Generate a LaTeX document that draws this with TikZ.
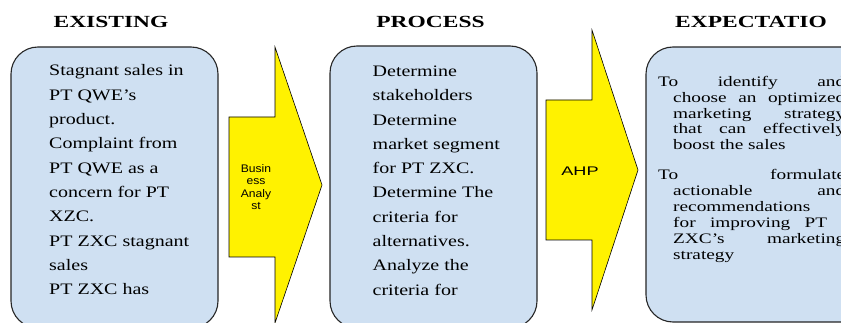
\documentclass[tikz,border=0pt]{standalone}
\usepackage{fontspec}
\setmainfont{Liberation Serif}
\newfontfamily\serifwide[FakeStretch=1.25]{Liberation Serif}
\newfontfamily\serifexp[FakeStretch=1.33]{Liberation Serif}
\newfontfamily\headwide[FakeStretch=1.38]{Liberation Serif}
\newfontfamily\sanswide[FakeStretch=1.45]{Liberation Sans}
\newfontfamily\sansplain[FakeStretch=1.1]{Liberation Sans}
\definecolor{panelblue}{RGB}{207,224,242}
\tikzset{
  panel/.style={draw=black!85, line width=1.1pt, fill=panelblue, rounded corners=27pt},
  bigarrow/.style={draw=black, line width=0.6pt, fill=yellow, line join=miter},
  heading/.style={font=\headwide\bfseries\fontsize{17}{20}\selectfont, inner sep=0pt, anchor=base},
  bodytext/.style={font=\serifwide\fontsize{16}{20}\selectfont, inner sep=0pt, anchor=base west},
  exptext/.style={font=\serifexp\fontsize{14.5}{16}\selectfont, inner sep=0pt, anchor=base west},
  balabel/.style={font=\sansplain\fontsize{11}{12.6}\selectfont, inner sep=0pt, align=center},
  ahplabel/.style={font=\sanswide\fontsize{12.5}{14}\selectfont, inner sep=0pt, anchor=base},
}
\begin{document}
\begin{tikzpicture}[x=1pt,y=-1pt]
\useasboundingbox (0,0) rectangle (841,323);
\clip (0,0) rectangle (841,323);
\fill[white] (0,0) rectangle (841,323);

% panels
\draw[panel] (11,47) rectangle (218,328);
\draw[panel] (330,46) rectangle (537,328);
\draw[panel] (646,47) rectangle (900,322);

% big arrows
\draw[bigarrow] (229,117) -- (275,117) -- (275,47) -- (322,185) -- (275,323) -- (275,257) -- (229,257) -- cycle;
\draw[bigarrow] (546,100) -- (592,100) -- (592,30) -- (638,170) -- (592,310) -- (592,240) -- (546,240) -- cycle;

% headings
\node[heading] (h1) at (111,28) {EXISTING};
\node[heading] (h2) at (430.5,28) {PROCESS};
\node[heading] (h3) at (751,28) {EXPECTATIO};

% arrow labels
\node[balabel] (ba) at (256,187) {Busin\\ess\\Analy\\st};
\node[ahplabel] (ahp) at (580,176) {AHP};

% existing
\foreach \t [count=\i] in {Stagnant sales in, PT QWE’s, product., Complaint from, PT QWE as a, concern for PT, XZC., PT ZXC stagnant, sales, PT ZXC has}
  \node[bodytext] (ex\i) at (49,{76+24.3*(\i-1)}) {\t};

% process
\foreach \t [count=\i] in {Determine, stakeholders, Determine, market segment, for PT ZXC., Determine The, criteria for, alternatives., Analyze the, criteria for}
  \node[bodytext] (pr\i) at (372.5,{76.5+24.3*(\i-1)}) {\t};

% expectation
\node[exptext] (ea1) at (658,86.7) {\makebox[187pt][s]{To identify and}};
\node[exptext] (ea2) at (673,102.4) {\makebox[172pt][s]{choose an optimized}};
\node[exptext] (ea3) at (673,118.1) {\makebox[172pt][s]{marketing strategy}};
\node[exptext] (ea4) at (673,133.8) {\makebox[172pt][s]{that can effectively}};
\node[exptext] (ea5) at (673,149.5) {boost the sales};

\node[exptext] (eb1) at (658,180) {\makebox[187pt][s]{To formulate}};
\node[exptext] (eb2) at (673,195.8) {\makebox[172pt][s]{actionable and}};
\node[exptext] (eb3) at (673,211.6) {recommendations};
\node[exptext] (eb4) at (673,227.4) {\makebox[154pt][s]{for improving PT}};
\node[exptext] (eb5) at (673,243.2) {\makebox[172pt][s]{ZXC’s marketing}};
\node[exptext] (eb6) at (673,259) {strategy};
\end{tikzpicture}
\end{document}
